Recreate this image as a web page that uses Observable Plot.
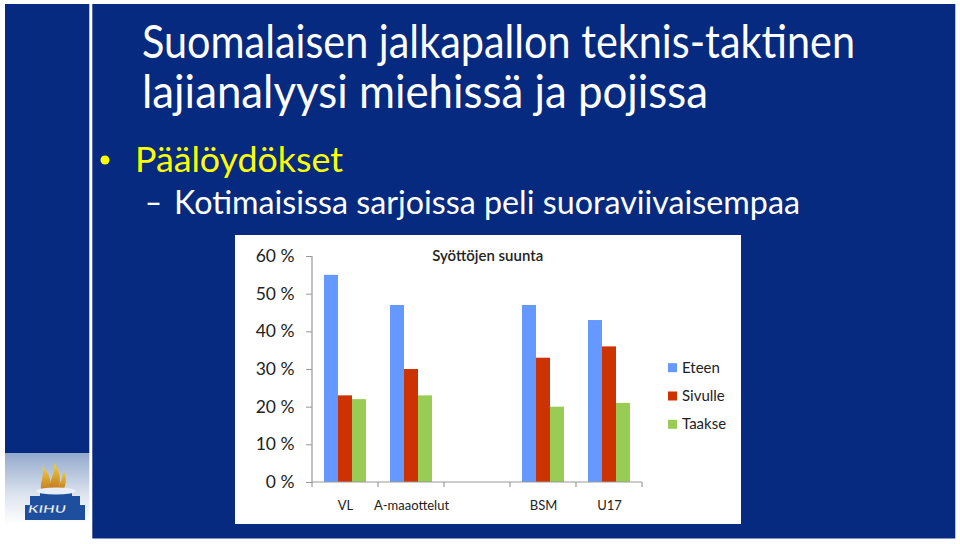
<!DOCTYPE html>
<html><head><meta charset="utf-8">
<script src="https://cdn.jsdelivr.net/npm/d3@7"></script>
<script src="https://cdn.jsdelivr.net/npm/@observablehq/plot@0.6"></script>
<style>
html,body{margin:0;padding:0;background:#fff;}
#slide{position:relative;width:960px;height:544px;overflow:hidden;font-family:Lato, sans-serif;}
#bg{position:absolute;left:0;top:0;}
#chart{position:absolute;left:235px;top:235px;}
#overlay{position:absolute;left:0;top:0;pointer-events:none;}
</style></head><body>
<div id="slide">
<svg id="bg" width="960" height="544" font-family="Lato, sans-serif">
  <defs>
    <linearGradient id="logoGrad" x1="0" y1="0" x2="0" y2="1">
      <stop offset="0" stop-color="#93a9cb"/>
      <stop offset="0.6" stop-color="#dfe6f0"/>
      <stop offset="1" stop-color="#ffffff"/>
    </linearGradient>
    <linearGradient id="flameGrad" x1="0" y1="0" x2="0" y2="1">
      <stop offset="0" stop-color="#f3d23a"/>
      <stop offset="1" stop-color="#b5651d"/>
    </linearGradient>
  </defs>
  <rect x="0" y="0" width="960" height="544" fill="#ffffff"/>
  <rect x="5" y="4" width="84.3" height="449" fill="#062a80"/>
  <rect x="92.3" y="4" width="863" height="534.5" fill="#062a80"/>
  <rect x="5" y="453" width="84.3" height="72" fill="url(#logoGrad)"/>
  <path d="M44,497 C36,485 46,478 42,466 C50,474 52,482 50,492 Z" fill="url(#flameGrad)"/>
  <path d="M50,495 C46,484 56,476 54,463 C61,472 62,484 56,494 Z" fill="url(#flameGrad)"/>
  <path d="M56,495 C56,486 64,480 63,470 C68,478 66,488 60,496 Z" fill="url(#flameGrad)"/>
  <path d="M25,520 L25,505 L30,505 L30,496 L40,496 L40,491 L72,491 L72,496 L80,496 L80,505 L85,505 L85,520 Z" fill="#1d4f9e"/>
  <ellipse cx="56" cy="491" rx="20" ry="3.5" fill="#e8eef7"/>
  <text x="47" y="513" font-size="11" font-weight="bold" font-style="italic" fill="#ffffff" stroke="#0d3a86" stroke-width="0.3" text-anchor="middle" textLength="38" lengthAdjust="spacingAndGlyphs">KIHU</text>

  <text x="142" y="58" font-size="46" fill="#ffffff" textLength="713" lengthAdjust="spacingAndGlyphs">Suomalaisen jalkapallon teknis-taktinen</text>
  <text x="142" y="108" font-size="46" fill="#ffffff" textLength="566" lengthAdjust="spacingAndGlyphs">lajianalyysi miehissä ja pojissa</text>
  <circle cx="105" cy="160" r="4.5" fill="#ffff00"/>
  <text x="135" y="172" font-size="35" fill="#ffff00" textLength="208" lengthAdjust="spacingAndGlyphs">Päälöydökset</text>
  <text x="145" y="214" font-size="32" fill="#ffffff" textLength="17" lengthAdjust="spacingAndGlyphs">–</text>
  <text x="174" y="214" font-size="32" fill="#ffffff" textLength="626" lengthAdjust="spacingAndGlyphs">Kotimaisissa sarjoissa peli suoraviivaisempaa</text>
</svg>
<div id="chart"></div>
<svg id="overlay" width="960" height="544" font-family="Lato, sans-serif">
  <text x="487.7" y="260.7" font-size="15" font-weight="600" fill="#222" text-anchor="middle" textLength="111" lengthAdjust="spacingAndGlyphs">Syöttöjen suunta</text>
  <g id="legend"></g>
</svg>
</div>
<script>
const categories = ["VL", "A-maaottelut", "", "BSM", "U17"];
const series = ["Eteen", "Sivulle", "Taakse"];
const eteen = [55, 47, null, 47, 43];
const sivulle = [23, 30, null, 33, 36];
const taakse = [22, 23, null, 20, 21];
const yTicks = [0, 10, 20, 30, 40, 50, 60];
const palette = ["#6699ff", "#cc3300", "#99cc55"];

const seriesValues = [eteen, sivulle, taakse];
const rows = [];
categories.forEach((c, i) => {
  series.forEach((s, j) => {
    const v = seriesValues[j][i];
    if (v != null) rows.push({category: c, series: s, value: v});
  });
});

const plot = Plot.plot({
  width: 506,
  height: 289,
  marginLeft: 75,
  marginRight: 97,
  marginTop: 21,
  marginBottom: 42,
  style: {fontFamily: "Lato, sans-serif", background: "white", color: "#222", overflow: "visible"},
  fx: {domain: categories, padding: 0, label: null},
  x: {domain: series, paddingInner: 0, paddingOuter: 0.727, axis: null},
  y: {domain: [0, 60], label: null},
  color: {domain: series, range: palette},
  marks: [
    Plot.barY(rows, {fx: "category", x: "series", y: "value", fill: "series"}),
    Plot.axisY({ticks: yTicks, tickFormat: d => d + " %", tickSize: 6, tickPadding: 12, fontSize: 17.5, stroke: "#999", fill: "#222", label: null, facetAnchor: "left"}),
    Plot.axisFx({anchor: "bottom", tickSize: 0, tickPadding: 18, fontSize: 13, fill: "#222", label: null})
  ]
});
document.getElementById("chart").appendChild(plot);

// axis baseline, vertical axis line and category boundary ticks from Plot's scales
const fxs = plot.scale("fx");
const ys = plot.scale("y");
const starts = fxs.domain.map(d => fxs.apply(d));
const xEnd = starts[starts.length - 1] + fxs.bandwidth;
const y0 = ys.apply(0), yTop = ys.apply(60);
const g = d3.select(plot).append("g").attr("stroke", "#999").attr("stroke-width", 1.2);
g.append("line").attr("x1", starts[0]).attr("x2", xEnd).attr("y1", y0).attr("y2", y0);
g.append("line").attr("x1", starts[0]).attr("x2", starts[0]).attr("y1", y0).attr("y2", yTop);
g.selectAll("line.tick").data(starts.concat([xEnd])).join("line")
  .attr("class", "tick")
  .attr("x1", d => d).attr("x2", d => d)
  .attr("y1", y0).attr("y2", y0 + 5);

// legend
const leg = d3.select("#legend");
series.forEach((s, i) => {
  const by = 372.7 + i * 28.3;
  leg.append("rect").attr("x", 668).attr("y", by - 9.5).attr("width", 9).attr("height", 9).attr("fill", palette[i]);
  leg.append("text").attr("x", 682).attr("y", by).attr("font-size", 15).attr("fill", "#222").text(s);
});
</script>
</body></html>
